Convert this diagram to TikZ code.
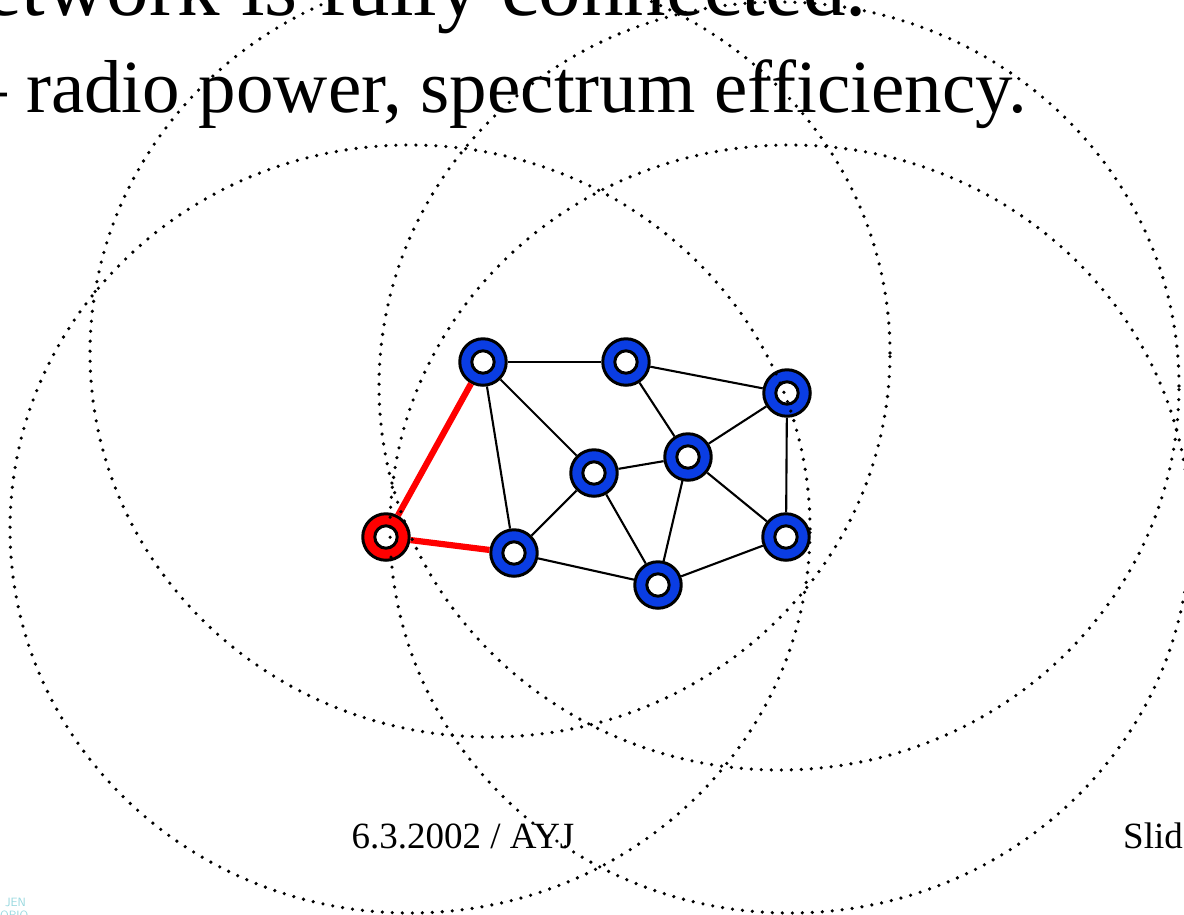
\documentclass[tikz,border=0pt]{standalone}
\usepackage{fontspec}
\setmainfont{Liberation Serif}
\definecolor{ringblue}{RGB}{10,61,227}
\definecolor{logocyan}{RGB}{150,215,222}

\begin{document}
\begin{tikzpicture}
          [x=1pt,y=-1pt,line join=round]
          \tikzstyle{station}=[circle,draw=black,fill=ringblue,line width=3pt,minimum size=46.5pt,inner sep=0pt,
            path picture={\draw[line width=3pt,fill=white] (path picture bounding box.center) circle (11.2pt);}]
          \tikzstyle{link}=[draw=black,line width=2.1pt]
          \tikzstyle{route}=[draw=red,line width=6.2pt]
          \tikzstyle{coverage}=[draw=black,line width=3.6pt,line cap=round,dash pattern=on 0pt off 10pt]

          \useasboundingbox (0,0) rectangle (1184,914);

          % slide text
          \node[anchor=base east,inner sep=0pt,font=\fontsize{85}{90}\selectfont] (title) at (867,15) {etwork is fully connected.};
          \node[anchor=base east,inner sep=0pt,font=\fontsize{75}{80}\selectfont] (bullet) at (1027,112) {– radio power, spectrum efficiency.};
          \node[anchor=base,inner sep=0pt,font=\fontsize{37}{40}\selectfont] (date) at (463,848) {6.3.2002 / AYJ};
          \node[anchor=base west,inner sep=0pt,font=\fontsize{37}{40}\selectfont] (slide) at (1123,848) {Slid};
          \node[anchor=base west,inner sep=0pt,text=logocyan,font=\sffamily\fontsize{12}{12}\selectfont] (logo) at (5,906) {JEN};
          \node[anchor=base west,inner sep=0pt,text=logocyan,font=\sffamily\fontsize{12}{12}\selectfont] (logo2) at (0,919) {ORIO};

          % the nodes
          \node[station] (n1) at (483,362) {};
          \node[station] (n2) at (626,362) {};
          \node[station] (n3) at (787,393) {};
          \node[station] (n4) at (688,457) {};
          \node[station] (n5) at (594,473) {};
          \node[station,fill=red] (n6) at (386,537) {};
          \node[station] (n7) at (514,553) {};
          \node[station] (n8) at (658,585) {};
          \node[station] (n9) at (786,537) {};

          \path[link]
          (n1) edge (n2)
          (n1) edge (n5)
          (n1) edge (n7)
          (n2) edge (n3)
          (n2) edge (n4)
          (n3) edge (n4)
          (n3) edge (n9)
          (n4) edge (n5)
          (n4) edge (n8)
          (n4) edge (n9)
          (n5) edge (n7)
          (n5) edge (n8)
          (n7) edge (n8)
          (n8) edge (n9)
          ;
          \path[route]
          (n6) edge (n1)
          (n6) edge (n7)
          ;

          % radio ranges
          \draw[coverage] (490,353) ellipse [x radius=400pt,y radius=384pt];
          \draw[coverage] (410,529) ellipse [x radius=400pt,y radius=384pt];
          \draw[coverage] (779,386) ellipse [x radius=400pt,y radius=384pt];
          \draw[coverage] (790,529) ellipse [x radius=400pt,y radius=384pt];
\end{tikzpicture}
\end{document}
